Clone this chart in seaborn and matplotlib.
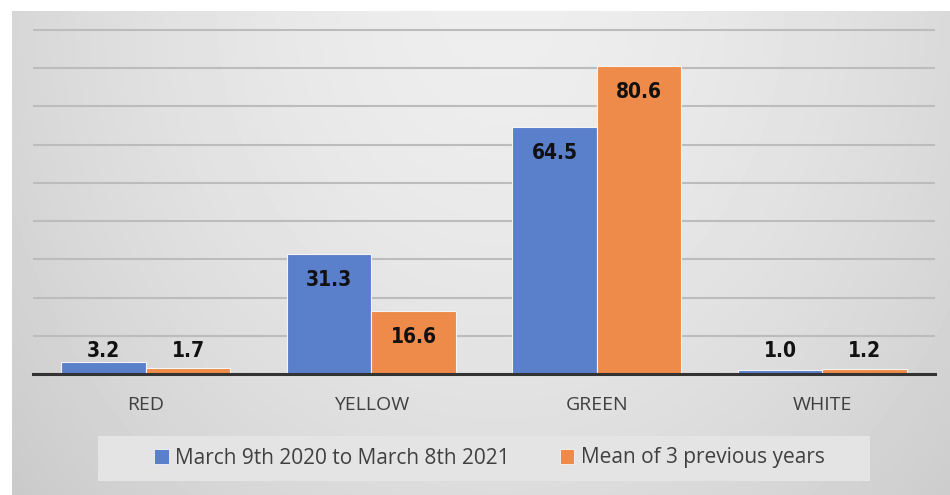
import numpy as np
import pandas as pd
import matplotlib
matplotlib.use("Agg")
import matplotlib.pyplot as plt
from matplotlib.patches import Patch, Rectangle
import seaborn as sns

# ---- data ----
categories = ["RED", "YELLOW", "GREEN", "WHITE"]
series_names = ["March 9th 2020 to March 8th 2021", "Mean of 3 previous years"]
current_values = [3.2, 31.3, 64.5, 1.0]
previous_values = [1.7, 16.6, 80.6, 1.2]
colors = ["#5a80cc", "#ef8b4a"]

df = pd.DataFrame({
    "category": categories * 2,
    "series": [series_names[0]] * 4 + [series_names[1]] * 4,
    "value": current_values + previous_values,
})

sns.set_theme(style="white")
plt.rcParams["font.family"] = ["Open Sans", "DejaVu Sans"]

W, H, DPI = 950, 495, 100
fig = plt.figure(figsize=(W / DPI, H / DPI), dpi=DPI)
fig.patch.set_facecolor("white")

# gradient background panel
bg = fig.add_axes([12 / W, 0, 1 - 12 / W, 1 - 11 / H], zorder=-10)
yy, xx = np.mgrid[0:484, 0:938]
xx = xx + 12
yy = yy + 11
r = np.sqrt(((xx - 500) / 520.0) ** 2 + (yy / 620.0) ** 2)
v = (238 - 26 * r ** 1.6) / 255.0
bg.imshow(v, cmap="gray", vmin=0, vmax=1, aspect="auto", interpolation="bilinear")
bg.set_axis_off()

# legend box
fig.patches.append(Rectangle((98 / W, 1 - 481 / H), (870 - 98) / W, 45 / H,
                             transform=fig.transFigure, facecolor="#e4e4e4",
                             edgecolor="none", zorder=-5))

ymax = 92
base_px = 374
top_px = 374 - ymax * (374 - 30) / 90
ax = fig.add_axes([33 / W, 1 - base_px / H, (935 - 33) / W, (base_px - top_px) / H])
ax.patch.set_alpha(0)

sns.barplot(data=df, x="category", y="value", hue="series", order=categories,
            hue_order=series_names, palette=colors, width=0.75, saturation=1,
            edgecolor="#f4f4f4", linewidth=0.8, ax=ax, legend=False, zorder=3)

ax.set_xlim(-0.5, 3.5)
ax.set_ylim(0, ymax)
ax.set_yticks(np.arange(0, 91, 10))
ax.yaxis.grid(True, color="#bcbcbc", linewidth=1.5, zorder=0)
ax.set_axisbelow(True)
ax.set_yticklabels([])
ax.tick_params(axis="y", length=0)
ax.tick_params(axis="x", length=0, pad=16, labelsize=14, labelcolor="#404040")
ax.set_xlabel("")
ax.set_ylabel("")
for s in ["top", "right", "left"]:
    ax.spines[s].set_visible(False)
ax.spines["bottom"].set_color("#333333")
ax.spines["bottom"].set_linewidth(2.2)
ax.spines["bottom"].set_zorder(4)

# data labels (inside end, or above the base if the bar is too short)
px_per_unit = (base_px - top_px) / ymax
label_font = dict(family="DejaVu Sans", stretch="condensed", weight="heavy",
                  size=15, color="#111111")
for cont in ax.containers:
    for bar in cont:
        val = bar.get_height()
        xc = bar.get_x() + bar.get_width() / 2
        if val * px_per_unit > 50:
            ax.annotate(f"{val:.1f}", (xc, val), xytext=(0, -26 * 72 / DPI),
                        textcoords="offset points", ha="center", va="center",
                        zorder=5, **label_font)
        else:
            ax.annotate(f"{val:.1f}", (xc, 0), xytext=(0, 23 * 72 / DPI),
                        textcoords="offset points", ha="center", va="center",
                        zorder=5, **label_font)

handles = [Patch(facecolor=c, edgecolor="#f4f4f4", linewidth=0.6) for c in colors]
fig.legend(handles, series_names, loc="center",
           bbox_to_anchor=((151 + 828) / 2 / W, 1 - 458 / H), ncol=2, frameon=False,
           fontsize=15, labelcolor="#404040", handlelength=0.7, handleheight=0.7,
           handletextpad=0.3, columnspacing=2.4)

fig.savefig("out.png", dpi=DPI)
